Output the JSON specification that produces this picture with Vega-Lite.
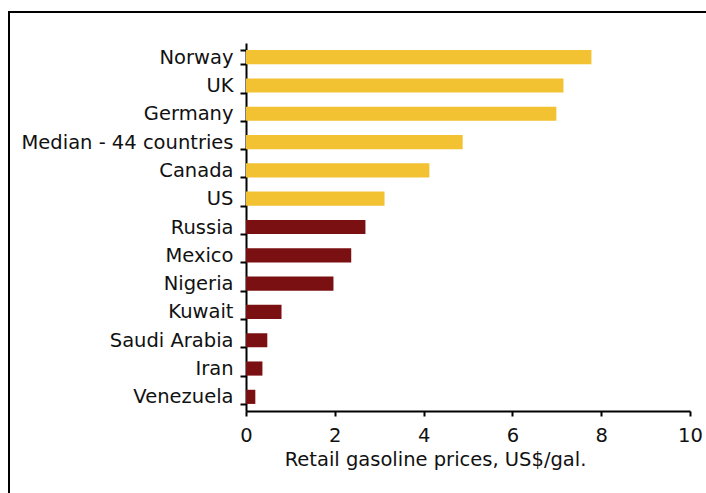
{
  "$schema": "https://vega.github.io/schema/vega-lite/v6.json",
  "autosize": "none",
  "width": 699,
  "height": 483,
  "padding": {"left": 9, "top": 12, "right": -2, "bottom": -2},
  "background": "white",
  "config": {
    "view": {"stroke": "#000000", "strokeWidth": 2},
    "font": "DejaVu Sans"
  },
  "data": {
    "values": [
      {"country": "Norway", "price": 7.78, "group": "high"},
      {"country": "UK", "price": 7.15, "group": "high"},
      {"country": "Germany", "price": 6.99, "group": "high"},
      {"country": "Median - 44 countries", "price": 4.88, "group": "high"},
      {"country": "Canada", "price": 4.13, "group": "high"},
      {"country": "US", "price": 3.12, "group": "high"},
      {"country": "Russia", "price": 2.69, "group": "low"},
      {"country": "Mexico", "price": 2.37, "group": "low"},
      {"country": "Nigeria", "price": 1.97, "group": "low"},
      {"country": "Kuwait", "price": 0.8, "group": "low"},
      {"country": "Saudi Arabia", "price": 0.48, "group": "low"},
      {"country": "Iran", "price": 0.37, "group": "low"},
      {"country": "Venezuela", "price": 0.21, "group": "low"}
    ]
  },
  "mark": {"type": "bar"},
  "encoding": {
    "y": {
      "field": "country",
      "type": "nominal",
      "sort": null,
      "scale": {"range": [31, 399], "paddingInner": 0.5, "paddingOuter": 0.25},
      "axis": {
        "title": null,
        "offset": -237,
        "tickBand": "extent",
        "tickSize": 6,
        "tickWidth": 2,
        "tickColor": "#000000",
        "domainColor": "#000000",
        "domainWidth": 2,
        "labelFont": "DejaVu Sans",
        "labelFontSize": 19.5,
        "labelColor": "#111111",
        "labelPadding": 7,
        "labelLimit": 0
      }
    },
    "x": {
      "field": "price",
      "type": "quantitative",
      "scale": {"domain": [0, 10], "range": [237, 681], "nice": false},
      "axis": {
        "title": "Retail gasoline prices, US$/gal.",
        "offset": -84,
        "values": [0, 2, 4, 6, 8, 10],
        "grid": false,
        "tickSize": 5,
        "tickWidth": 2,
        "tickColor": "#000000",
        "domainColor": "#000000",
        "domainWidth": 2,
        "labelFont": "DejaVu Sans",
        "labelFontSize": 19.5,
        "labelColor": "#111111",
        "labelPadding": 10,
        "labelFlush": false,
        "titleFont": "DejaVu Sans",
        "titleFontSize": 19.5,
        "titleFontWeight": "normal",
        "titleColor": "#111111",
        "titleX": 426,
        "titlePadding": 6
      }
    },
    "color": {
      "field": "group",
      "type": "nominal",
      "scale": {"domain": ["high", "low"], "range": ["#F2C232", "#7B1012"]},
      "legend": null
    }
  }
}
